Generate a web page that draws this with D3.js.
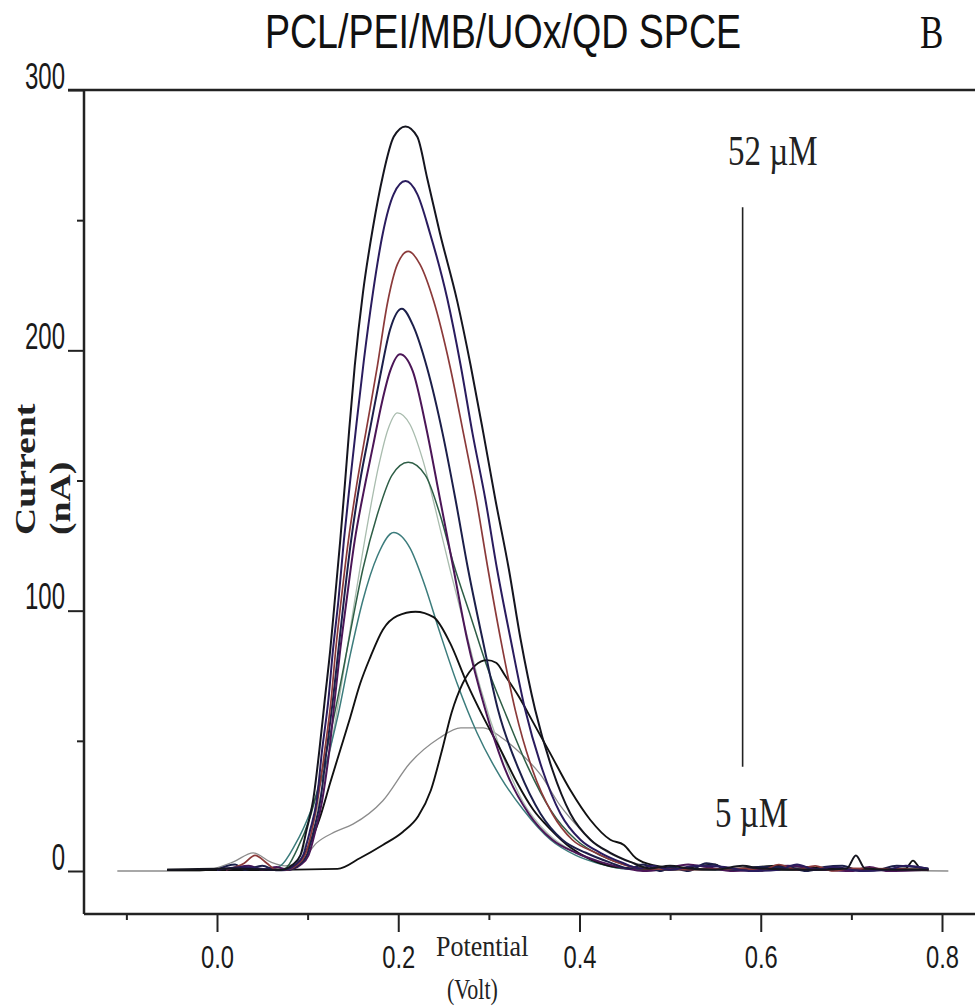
<!DOCTYPE html>
<html>
<head>
<meta charset="utf-8">
<script src="https://cdn.jsdelivr.net/npm/d3@7"></script>
<style>
  body { margin: 0; background: #fff; }
</style>
</head>
<body>
<svg id="chart" width="975" height="1008"></svg>
<script>
// tick values
const xTicksMajor = [0, 0.2, 0.4, 0.6, 0.8];
const xTicksMinor = [-0.1, 0.1, 0.3, 0.5, 0.7];
const yTicksMajor = [0, 100, 200, 300];
const yTicksMinor = [50, 150, 250];

// voltammograms, [potential (V), current (nA)]
const curve1 = [[-0.055,0.5],[0.02,1],[0.05,0.6],[0.070,0.4],[0.083,2.3],[0.092,6],[0.099,16],[0.106,27],[0.113,46.5],[0.119,66],[0.125,85],[0.130,104],[0.136,127],[0.141,148],[0.146,170],[0.152,194],[0.161,222],[0.172,247],[0.183,267],[0.195,282],[0.208,286],[0.221,282],[0.232,266],[0.246,245],[0.265,219],[0.280,194],[0.294,168],[0.307,143],[0.322,116],[0.335,89],[0.351,62],[0.370,39],[0.390,22],[0.412,12],[0.434,7],[0.456,3.5],[0.478,1],[0.50,2],[0.52,1],[0.55,0.5],[0.58,2],[0.60,1],[0.66,0.5],[0.695,1],[0.705,6],[0.715,1],[0.75,0.5],[0.785,0.5]];
const curve2 = [[0.0,0.5],[0.03,1.5],[0.06,0.5],[0.073,0.4],[0.086,2.3],[0.095,6],[0.103,16],[0.110,27],[0.116,46.5],[0.123,66],[0.128,85],[0.134,104],[0.140,127],[0.147,150],[0.154,172],[0.162,196],[0.172,222],[0.183,245],[0.195,260],[0.208,265],[0.221,260],[0.235,245],[0.254,220],[0.269,194],[0.282,168],[0.296,143],[0.309,116],[0.324,89],[0.340,62],[0.359,39],[0.379,22],[0.401,12],[0.423,7],[0.445,3.5],[0.467,1],[0.48,2],[0.50,0.5],[0.53,2],[0.56,1.5],[0.59,0],[0.62,0.5],[0.64,2.5],[0.66,0.5],[0.68,1.5],[0.71,0],[0.74,0.5],[0.76,2],[0.785,0.8]];
const curve3 = [[0.01,0.5],[0.03,3],[0.042,6],[0.055,3],[0.065,0.5],[0.075,0.4],[0.088,2.3],[0.097,6],[0.105,16],[0.111,27],[0.119,46.5],[0.126,66],[0.131,85],[0.137,104],[0.145,127],[0.154,148],[0.165,170],[0.177,194],[0.188,218],[0.199,233],[0.211,238],[0.224,233],[0.239,219],[0.257,194],[0.272,168],[0.286,143],[0.299,116],[0.313,89],[0.329,62],[0.348,39],[0.370,22],[0.392,12],[0.418,7],[0.440,3.5],[0.467,1],[0.52,0.5],[0.58,1],[0.60,0],[0.62,2.5],[0.64,0.5],[0.66,2],[0.68,0],[0.70,1],[0.785,0.5]];
const curve4 = [[0.0,0.5],[0.02,2.5],[0.03,0.5],[0.05,2],[0.065,0.3],[0.077,0.4],[0.090,2.3],[0.099,6],[0.107,16],[0.114,27],[0.121,46.5],[0.128,66],[0.134,85],[0.140,104],[0.148,127],[0.158,150],[0.169,170],[0.180,190],[0.191,208],[0.204,216],[0.217,209],[0.232,193],[0.249,168],[0.263,143],[0.277,116],[0.293,89],[0.310,62],[0.333,39],[0.357,22],[0.381,12],[0.407,7],[0.432,3.5],[0.456,1],[0.47,2.5],[0.49,0],[0.50,1.5],[0.52,0],[0.54,3],[0.57,0.5],[0.60,1.5],[0.63,1.5],[0.65,0],[0.67,1.5],[0.69,2],[0.71,0],[0.73,0.5],[0.75,2],[0.785,1]];
const curve5 = [[0.01,0.5],[0.035,2],[0.05,0.5],[0.066,1.5],[0.078,0.4],[0.092,2.3],[0.101,6],[0.109,16],[0.116,27],[0.124,46.5],[0.130,66],[0.136,85],[0.143,104],[0.152,127],[0.162,146],[0.172,163],[0.182,180],[0.191,192],[0.202,198.5],[0.216,192],[0.231,170],[0.246,143],[0.261,116],[0.276,89],[0.296,62],[0.318,39],[0.344,22],[0.370,12],[0.396,7],[0.423,3.5],[0.451,1],[0.47,0],[0.49,0.5],[0.52,2.5],[0.54,1.5],[0.57,0],[0.61,1],[0.63,2],[0.67,0.5],[0.70,0],[0.72,1.5],[0.74,0],[0.785,0.5]];
const curve6 = [[0.02,0.5],[0.06,0.5],[0.078,1],[0.092,6],[0.107,19.5],[0.123,43],[0.138,73],[0.152,104],[0.167,135],[0.178,155],[0.189,170],[0.199,176],[0.213,171.5],[0.227,158],[0.241,139],[0.257,116],[0.274,93],[0.291,70],[0.313,46.5],[0.337,27],[0.366,14],[0.396,7],[0.423,3],[0.451,0.8],[0.55,0.5],[0.65,1],[0.785,0.5]];
const curve7 = [[0.02,0.5],[0.06,0.5],[0.075,1],[0.088,8],[0.103,21],[0.117,40],[0.133,66],[0.147,91.5],[0.161,116],[0.177,137],[0.193,152],[0.211,157],[0.230,152],[0.246,137],[0.261,118],[0.280,97.7],[0.298,78.5],[0.320,59],[0.343,40],[0.368,23.5],[0.396,12],[0.423,6],[0.451,2.3],[0.49,0.5],[0.58,1],[0.68,0.5],[0.785,0.8]];
const curve8 = [[0.02,0.5],[0.055,0.5],[0.070,2],[0.086,10],[0.103,22.7],[0.117,37],[0.133,59],[0.147,83],[0.161,104],[0.177,121],[0.195,130],[0.213,124],[0.228,111],[0.246,91.5],[0.265,72],[0.287,53],[0.313,36],[0.338,23.5],[0.368,12],[0.396,6],[0.423,2.7],[0.451,0.8],[0.53,0.5],[0.64,1],[0.785,0.5]];
const curve9 = [[-0.055,0.5],[0.03,0.5],[0.070,0.5],[0.081,1],[0.092,4],[0.103,11],[0.114,21],[0.125,34],[0.136,46.5],[0.147,59],[0.158,72],[0.169,82],[0.183,92.7],[0.199,98],[0.219,99.6],[0.239,97.5],[0.257,87.7],[0.276,72],[0.294,59],[0.313,46.5],[0.331,34],[0.349,23.5],[0.368,16],[0.390,9],[0.412,4.5],[0.440,1.5],[0.46,1],[0.50,0.5],[0.55,2.5],[0.56,0.5],[0.62,2],[0.70,0.5],[0.76,1],[0.768,4],[0.776,1],[0.785,0.3]];
const curve10 = [[-0.055,0.4],[0.036,0.4],[0.133,0.8],[0.158,5],[0.183,10],[0.205,15],[0.222,21],[0.236,31],[0.248,46],[0.259,61],[0.271,72],[0.285,79],[0.298,81],[0.308,80],[0.318,75],[0.333,67],[0.349,57],[0.368,45],[0.390,31],[0.412,19.6],[0.434,12],[0.449,10],[0.462,5],[0.484,2],[0.512,0.8],[0.60,0.5],[0.785,0.5]];
const curve11 = [[-0.110,0],[-0.019,0],[0.018,3.5],[0.040,7],[0.059,3.5],[0.075,2],[0.092,3.5],[0.110,10.8],[0.130,15],[0.150,18],[0.183,27],[0.213,41.5],[0.245,51],[0.269,55],[0.294,55],[0.313,51.5],[0.331,46.5],[0.357,37],[0.379,25],[0.401,16],[0.423,9],[0.451,4],[0.478,2],[0.534,0.8],[0.807,0]];

// concentration marker
const markerPotential = 0.58;
const markerRange = [40, 255];
const concLabels = ["52 µM", "5 µM"];

const seriesList = [curve11, curve6, curve8, curve7, curve10, curve9, curve5, curve4, curve3, curve2, curve1];
const seriesColor = ["#8c8c8c", "#a9bcae", "#3c7c7c", "#2e5e46", "#111111", "#111111", "#4b1657", "#1c1f4a", "#8b3a3a", "#2a1c5e", "#15151f"];
const seriesWidth = [1.3, 1.3, 1.5, 1.5, 1.9, 1.9, 2, 2, 1.7, 2, 2];

const svg = d3.select("#chart");
const x = d3.scaleLinear().domain([0, 0.8]).range([217, 942]);
const y = d3.scaleLinear().domain([0, 300]).range([871, 90]);

// frame
const ink = "#222";
svg.append("line").attr("x1", 84).attr("x2", 84).attr("y1", 90).attr("y2", 914)
  .attr("stroke", ink).attr("stroke-width", 2.5);
svg.append("line").attr("x1", 84).attr("x2", 975).attr("y1", 914).attr("y2", 914)
  .attr("stroke", ink).attr("stroke-width", 2.5);
svg.append("line").attr("x1", 68).attr("x2", 975).attr("y1", y(300)).attr("y2", y(300))
  .attr("stroke", ink).attr("stroke-width", 2.5);

// y axis
const yAxis = svg.append("g")
  .attr("transform", "translate(84,0)")
  .call(d3.axisLeft(y).tickValues(yTicksMajor.concat(yTicksMinor)).tickSize(16)
    .tickFormat(d => yTicksMajor.includes(d) ? d : ""));
yAxis.attr("font-family", "'Liberation Sans', Arial, sans-serif").attr("font-size", 24);
yAxis.select(".domain").remove();
yAxis.selectAll(".tick line")
  .attr("x2", d => yTicksMajor.includes(d) ? -16 : -7)
  .attr("stroke", ink).attr("stroke-width", 2);
yAxis.selectAll(".tick text")
  .attr("x", 0).attr("dy", 0)
  .attr("text-anchor", "end")
  .attr("fill", "#1a1a1a")
  .attr("transform", "translate(-19,-2) scale(1,1.54)");

// x axis
const xAxis = svg.append("g")
  .attr("transform", "translate(0,914)")
  .call(d3.axisBottom(x).tickValues(xTicksMajor.concat(xTicksMinor)).tickSize(18)
    .tickFormat(d => xTicksMajor.includes(d) ? d3.format(".1f")(d) : ""));
xAxis.attr("font-family", "'Liberation Sans', Arial, sans-serif").attr("font-size", 25);
xAxis.select(".domain").remove();
xAxis.selectAll(".tick line")
  .attr("y2", d => xTicksMajor.includes(d) ? 18 : 6)
  .attr("stroke", ink).attr("stroke-width", 2);
xAxis.selectAll(".tick text")
  .attr("y", 0).attr("dy", 0)
  .attr("fill", "#1a1a1a")
  .attr("transform", "translate(0,54) scale(0.95,1.25)");

// curves
const line = d3.line()
  .x(d => x(d[0]))
  .y(d => y(d[1]))
  .curve(d3.curveMonotoneX);

svg.append("g").selectAll("path")
  .data(seriesList)
  .join("path")
  .attr("d", line)
  .attr("fill", "none")
  .attr("stroke", (d, i) => seriesColor[i])
  .attr("stroke-width", (d, i) => seriesWidth[i])
  .attr("stroke-linejoin", "round");

// concentration marker
svg.append("line")
  .attr("x1", x(markerPotential)).attr("x2", x(markerPotential))
  .attr("y1", y(markerRange[1])).attr("y2", y(markerRange[0]))
  .attr("stroke", ink).attr("stroke-width", 1.6);

const serif = "'Liberation Serif', 'Times New Roman', serif";
svg.append("text").text(concLabels[0])
  .attr("font-family", serif).attr("font-size", 33).attr("fill", "#222")
  .attr("transform", "translate(728,165) scale(1,1.3)");
svg.append("text").text(concLabels[1])
  .attr("font-family", serif).attr("font-size", 33).attr("fill", "#222")
  .attr("transform", "translate(715,827) scale(1,1.3)");

// title and panel letter
svg.append("text").text("PCL/PEI/MB/UOx/QD SPCE")
  .attr("font-family", "'Liberation Sans', Arial, sans-serif").attr("font-size", 37.6)
  .attr("text-anchor", "middle").attr("fill", "#111")
  .attr("transform", "translate(503,48) scale(1,1.3)");
svg.append("text").text("B")
  .attr("font-family", serif).attr("font-size", 35).attr("fill", "#111")
  .attr("transform", "translate(920,48) scale(1,1.3)");

// axis titles
svg.append("text").text("Potential")
  .attr("font-family", serif).attr("font-size", 26).attr("fill", "#222")
  .attr("transform", "translate(436,956) scale(1,1.15)");
svg.append("text").text("(Volt)")
  .attr("font-family", serif).attr("font-size", 22).attr("fill", "#222")
  .attr("transform", "translate(447,999) scale(1,1.35)");
svg.append("text").text("Current")
  .attr("font-family", serif).attr("font-size", 29).attr("font-weight", "bold").attr("fill", "#222")
  .attr("transform", "translate(35,535) scale(1,1.3) rotate(-90)");
svg.append("text").text("(nA)")
  .attr("font-family", serif).attr("font-size", 29).attr("font-weight", "bold").attr("fill", "#222")
  .attr("transform", "translate(70,535) scale(1,1.3) rotate(-90)");
</script>
</body>
</html>
